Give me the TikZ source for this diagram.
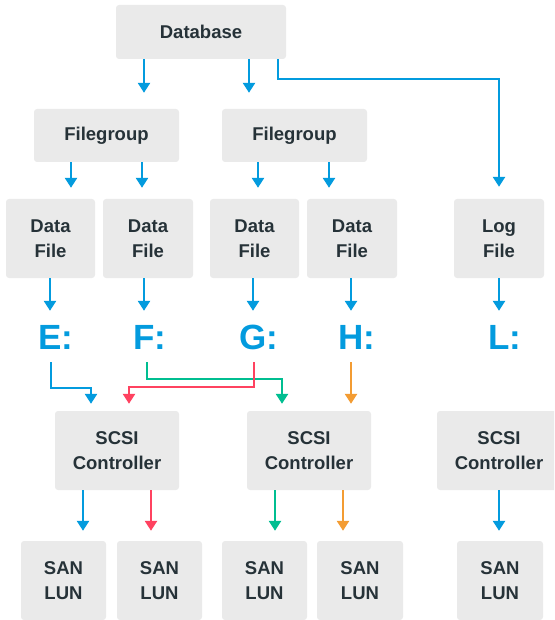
\documentclass[tikz,border=0pt]{standalone}
\usepackage{fontspec}
\setmainfont{Liberation Sans}
\usetikzlibrary{arrows.meta}
\definecolor{cblue}{RGB}{3,155,222}
\definecolor{cgreen}{RGB}{0,190,145}
\definecolor{cred}{RGB}{255,66,96}
\definecolor{corange}{RGB}{243,156,51}
\definecolor{boxgray}{RGB}{234,234,234}
\definecolor{txt}{RGB}{38,50,56}
\begin{document}
\begin{tikzpicture}[x=1pt,y=-1pt,
  box/.style={fill=boxgray, rounded corners=3pt, inner sep=0pt, text=txt,
    font=\fontsize{18.5}{25}\selectfont\bfseries, align=center},
  drive/.style={inner sep=0pt, text height=25pt, text depth=0pt, text=cblue,
    font=\fontsize{35}{35}\selectfont\bfseries},
  arr/.style={line width=2.8pt, -{Triangle[width=12pt,length=10pt]}, cblue},
]
\clip (0,0) rectangle (554,620);
% boxes
\node[box, minimum width=170pt, minimum height=54pt] (db) at (201,32) {Database};
\node[box, minimum width=145pt, minimum height=53pt] (fg1) at (106.5,135.5) {Filegroup};
\node[box, minimum width=145pt, minimum height=53pt] (fg2) at (294.5,135.5) {Filegroup};
\node[box, minimum width=89pt, minimum height=79pt] (df1) at (50.5,238.5) {Data\\File};
\node[box, minimum width=90pt, minimum height=79pt] (df2) at (148,238.5) {Data\\File};
\node[box, minimum width=89pt, minimum height=79pt] (df3) at (254.5,238.5) {Data\\File};
\node[box, minimum width=90pt, minimum height=79pt] (df4) at (352,238.5) {Data\\File};
\node[box, minimum width=90pt, minimum height=79pt] (log) at (499,238.5) {Log\\File};
\node[drive] (E) at (56,336.5) {E:};
\node[drive] (F) at (150,336.5) {F:};
\node[drive] (G) at (259,336.5) {G:};
\node[drive] (H) at (357,336.5) {H:};
\node[drive] (L) at (505,336.5) {L:};
\node[box, minimum width=124pt, minimum height=79pt] (sc1) at (117,450.5) {SCSI\\Controller};
\node[box, minimum width=124pt, minimum height=79pt] (sc2) at (309,450.5) {SCSI\\Controller};
\node[box, minimum width=124pt, minimum height=79pt] (sc3) at (499,450.5) {SCSI\\Controller};
\node[box, minimum width=85pt, minimum height=79pt] (san1) at (63.5,580.5) {SAN\\LUN};
\node[box, minimum width=85pt, minimum height=79pt] (san2) at (159.5,580.5) {SAN\\LUN};
\node[box, minimum width=85pt, minimum height=79pt] (san3) at (264.5,580.5) {SAN\\LUN};
\node[box, minimum width=86pt, minimum height=79pt] (san4) at (360,580.5) {SAN\\LUN};
\node[box, minimum width=86pt, minimum height=79pt] (san5) at (500,580.5) {SAN\\LUN};
% database arrows
\draw[arr, shorten >=16pt] (144,0 |- db.south) -- (144,0 |- fg1.north);
\draw[arr, shorten >=16pt] (249,0 |- db.south) -- (249,0 |- fg2.north);
\draw[arr, shorten >=12pt] (278,0 |- db.south) -- (278,79) -| (log.north);
% filegroup arrows
\draw[arr, shorten >=11pt] (71,0 |- fg1.south) -- (71,0 |- df1.north);
\draw[arr, shorten >=11pt] (142,0 |- fg1.south) -- (142,0 |- df2.north);
\draw[arr, shorten >=11pt] (258,0 |- fg2.south) -- (258,0 |- df3.north);
\draw[arr, shorten >=11pt] (329,0 |- fg2.south) -- (329,0 |- df4.north);
% data file to drive
\draw[arr, shorten >=13pt] (50,0 |- df1.south) -- (50,0 |- E.north);
\draw[arr, shorten >=13pt] (144,0 |- df2.south) -- (144,0 |- F.north);
\draw[arr, shorten >=13pt] (253,0 |- df3.south) -- (253,0 |- G.north);
\draw[arr, shorten >=13pt] (351,0 |- df4.south) -- (351,0 |- H.north);
\draw[arr, shorten >=13pt] (499,0 |- log.south) -- (499,0 |- L.north);
% drive to controller
\draw[arr, shorten <=13pt, shorten >=7pt] (51,0 |- E.south) -- (51,388) -| (91,0 |- sc1.north);
\draw[arr, cgreen, shorten <=13pt, shorten >=7pt] (147,0 |- F.south) -- (147,379) -| (282,0 |- sc2.north);
\draw[arr, cred, shorten <=13pt, shorten >=7pt] (254,0 |- G.south) -- (254,387) -| (129,0 |- sc1.north);
\draw[arr, corange, shorten <=13pt, shorten >=7pt] (351,0 |- H.south) -- (351,0 |- sc2.north);
% controller to LUN
\draw[arr, shorten >=10pt] (83,0 |- sc1.south) -- (83,0 |- san1.north);
\draw[arr, cred, shorten >=10pt] (151,0 |- sc1.south) -- (151,0 |- san2.north);
\draw[arr, cgreen, shorten >=10pt] (275,0 |- sc2.south) -- (275,0 |- san3.north);
\draw[arr, corange, shorten >=10pt] (343,0 |- sc2.south) -- (343,0 |- san4.north);
\draw[arr, shorten >=10pt] (499,0 |- sc3.south) -- (499,0 |- san5.north);
\end{tikzpicture}
\end{document}
